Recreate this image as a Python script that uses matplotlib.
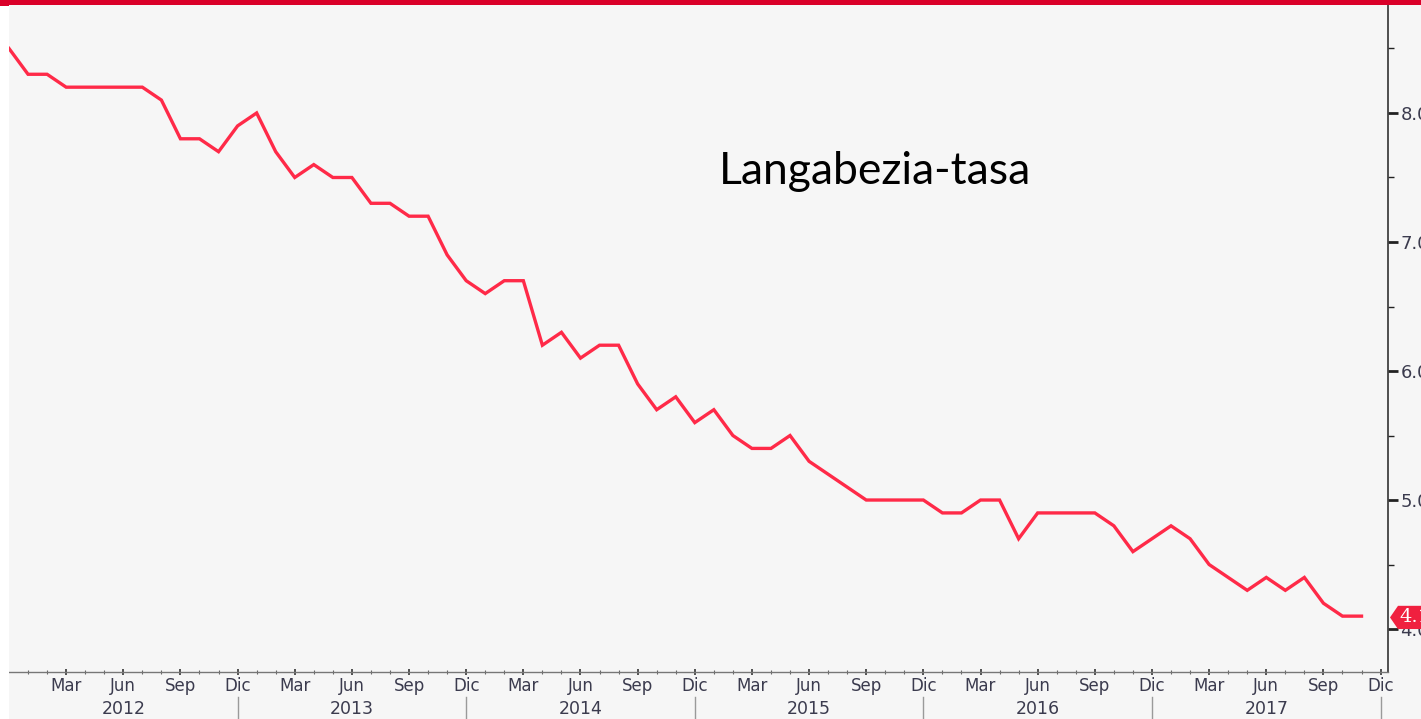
import matplotlib
matplotlib.use("Agg")
import matplotlib.pyplot as plt
import matplotlib.transforms as mtransforms
from matplotlib.patches import Polygon, Rectangle

# ---- data ----
years = ["2012", "2013", "2014", "2015", "2016", "2017"]
month_labels = ["Mar", "Jun", "Sep", "Dic"]
# monthly unemployment rate, Jan 2012 .. Dec 2017
values = [8.5, 8.3, 8.3, 8.2, 8.2, 8.2, 8.2, 8.2, 8.1, 7.8, 7.8, 7.7,
          7.9, 8.0, 7.7, 7.5, 7.6, 7.5, 7.5, 7.3, 7.3, 7.2, 7.2, 6.9,
          6.7, 6.6, 6.7, 6.7, 6.2, 6.3, 6.1, 6.2, 6.2, 5.9, 5.7, 5.8,
          5.6, 5.7, 5.5, 5.4, 5.4, 5.5, 5.3, 5.2, 5.1, 5.0, 5.0, 5.0,
          5.0, 4.9, 4.9, 5.0, 5.0, 4.7, 4.9, 4.9, 4.9, 4.9, 4.8, 4.6,
          4.7, 4.8, 4.7, 4.5, 4.4, 4.3, 4.4, 4.3, 4.4, 4.2, 4.1, 4.1]
title = "Langabezia-tasa"
last_label = "4.1"
y_ticks = [4.0, 5.0, 6.0, 7.0, 8.0]

# ---- style ----
BG = "#F6F6F6"
LINE = "#FF2A48"
BAR = "#DA0029"
TXT = "#3b3b4e"

W, H = 1421, 719
fig = plt.figure(figsize=(W / 100, H / 100), dpi=100, facecolor=BG)

# white strip at left and red bar at top
fig.patches.append(Rectangle((0, 0), 9 / W, 1, transform=fig.transFigure,
                             facecolor="white", edgecolor="none", zorder=0))
fig.patches.append(Rectangle((0, 1 - 5 / H), 1, 5 / H, transform=fig.transFigure,
                             facecolor=BAR, edgecolor="none", zorder=10))
fig.patches.append(Rectangle((0, 1 - 6 / H), 9 / W, 6 / H, transform=fig.transFigure,
                             facecolor=BAR, edgecolor="none", zorder=10))

left, right, top, bottom = 9, 1388, 5, 672
ax = fig.add_axes([left / W, (H - bottom) / H, (right - left) / W, (bottom - top) / H])
ax.set_facecolor(BG)

x = list(range(len(values)))
ax.plot(x, values, color=LINE, lw=2.4, solid_joinstyle="miter", zorder=3)

ax.set_xlim(0, 72.39)
ax.set_ylim(3.667, 8.837)

# spines
for s in ["top", "left"]:
    ax.spines[s].set_visible(False)
ax.spines["right"].set_color("#333333")
ax.spines["right"].set_linewidth(1.2)
ax.spines["bottom"].set_color("#777777")
ax.spines["bottom"].set_linewidth(1.0)

# y axis on right
ax.yaxis.tick_right()
ax.set_yticks(y_ticks)
ax.set_yticklabels([f"{v:.1f}" for v in y_ticks])
ax.set_yticks([4.5, 5.5, 6.5, 7.5, 8.5], minor=True)
ax.tick_params(axis="y", which="major", direction="out", length=7, width=2,
               color="#222222", labelsize=13, labelcolor=TXT, pad=2)
ax.tick_params(axis="y", which="minor", direction="out", length=4, width=1,
               color="#222222")

# x axis: monthly minor ticks, quarterly labels
n_years = len(years)
major_pos = [3 * (k + 1) for k in range(4 * n_years)]
major_lab = [month_labels[k % 4] for k in range(4 * n_years)]
ax.set_xticks(major_pos)
ax.set_xticklabels(major_lab)
ax.set_xticks(range(1, 12 * n_years + 1), minor=True)
ax.tick_params(axis="x", which="major", direction="inout", length=5, width=1.3,
               color="#444444", labelsize=12, labelcolor=TXT, pad=1)
ax.tick_params(axis="x", which="minor", direction="inout", length=3, width=0.8,
               color="#666666")

# year labels and separators
trans = mtransforms.blended_transform_factory(ax.transData, ax.transAxes)
for k, yr in enumerate(years):
    ax.text(12 * k + 6, -37 / (bottom - top), yr, transform=trans, ha="center",
            va="center", fontsize=12.5, color=TXT, clip_on=False)
    xs = 12 * (k + 1)
    ax.plot([xs, xs], [-25 / (bottom - top), -50 / (bottom - top)], transform=trans,
            color="#9a9a9a", lw=1.0, clip_on=False)

# title text
ax.text((719 - left) / (right - left), (bottom - 171) / (bottom - top), title,
        transform=ax.transAxes, fontsize=32, family="Lato", color="black",
        ha="left", va="center")

# last value tag
ytr = mtransforms.blended_transform_factory(ax.transAxes, ax.transData)
x0 = (1390 - left) / (right - left)
x1 = (1398 - left) / (right - left)
x2 = (1440 - left) / (right - left)
yc, hh = values[-1] - 0.01, 0.09
tag = Polygon([(x0, yc), (x1, yc + hh), (x2, yc + hh), (x2, yc - hh), (x1, yc - hh)],
              closed=True, transform=ytr, facecolor="#F0203F", edgecolor="none",
              clip_on=False, zorder=6)
ax.add_patch(tag)
ax.text((1399 - left) / (right - left), yc, last_label, transform=ytr, color="white",
        fontsize=14, family="DejaVu Serif", ha="left", va="center", clip_on=False,
        zorder=7)

fig.savefig("out.png", dpi=100, facecolor=BG)
